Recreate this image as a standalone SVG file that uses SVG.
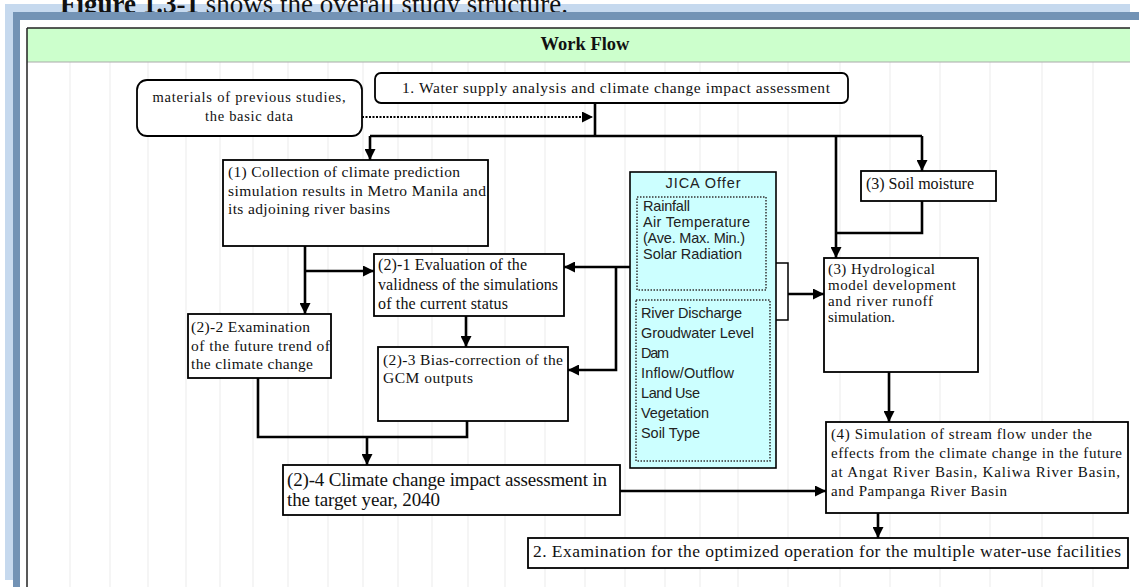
<svg xmlns="http://www.w3.org/2000/svg" width="1139" height="587" viewBox="0 0 1139 587">
<style>
.box{fill:#fff;stroke:#000;stroke-width:1.8}
.t{font-family:"Liberation Serif","Times New Roman",serif;fill:#111}
.s{font-family:"Liberation Sans",Arial,sans-serif;fill:#222}
.c{fill:none;stroke:#000;stroke-width:2.6}
.thin{fill:none;stroke:#000;stroke-width:1.5}
.dot{fill:none;stroke:#333;stroke-width:1.5;stroke-dasharray:1.5 1.5}
.grid{stroke:#ebebeb;stroke-width:1}
</style>
<defs>
<marker id="ah" viewBox="0 0 10 10" refX="10" refY="5" markerWidth="11" markerHeight="11" markerUnits="userSpaceOnUse" orient="auto">
<path d="M0,0 L10,5 L0,10 z" fill="#000"/>
</marker>
</defs>
<rect width="1139" height="587" fill="#fff"/>
<rect x="5" y="4" width="1125" height="576" fill="#c6d9ee"/>
<text class="t" x="60" y="13" font-size="27"><tspan font-weight="bold">Figure 1.3-1</tspan> shows the overall study structure.</text>
<rect x="13" y="12" width="1126" height="575" fill="#7393b5"/>
<rect x="20" y="20" width="1119" height="567" fill="#fff"/>
<g id="grid">
<line class="grid" x1="70" y1="28" x2="70" y2="587"/>
<line class="grid" x1="110" y1="28" x2="110" y2="587"/>
<line class="grid" x1="148" y1="28" x2="148" y2="587"/>
<line class="grid" x1="186" y1="28" x2="186" y2="587"/>
<line class="grid" x1="220" y1="28" x2="220" y2="587"/>
<line class="grid" x1="253" y1="28" x2="253" y2="587"/>
<line class="grid" x1="288" y1="28" x2="288" y2="587"/>
<line class="grid" x1="328" y1="28" x2="328" y2="587"/>
<line class="grid" x1="363" y1="28" x2="363" y2="587"/>
<line class="grid" x1="398" y1="28" x2="398" y2="587"/>
<line class="grid" x1="432" y1="28" x2="432" y2="587"/>
<line class="grid" x1="468" y1="28" x2="468" y2="587"/>
<line class="grid" x1="505" y1="28" x2="505" y2="587"/>
<line class="grid" x1="545" y1="28" x2="545" y2="587"/>
<line class="grid" x1="585" y1="28" x2="585" y2="587"/>
<line class="grid" x1="625" y1="28" x2="625" y2="587"/>
<line class="grid" x1="665" y1="28" x2="665" y2="587"/>
<line class="grid" x1="700" y1="28" x2="700" y2="587"/>
<line class="grid" x1="738" y1="28" x2="738" y2="587"/>
<line class="grid" x1="788" y1="28" x2="788" y2="587"/>
<line class="grid" x1="840" y1="28" x2="840" y2="587"/>
<line class="grid" x1="890" y1="28" x2="890" y2="587"/>
<line class="grid" x1="940" y1="28" x2="940" y2="587"/>
<line class="grid" x1="990" y1="28" x2="990" y2="587"/>
<line class="grid" x1="1042" y1="28" x2="1042" y2="587"/>
<line class="grid" x1="1093" y1="28" x2="1093" y2="587"/>
</g>
<g id="header">
<rect x="27" y="28" width="1103" height="34" fill="#ccffcc"/>
<line x1="27" y1="28" x2="1130" y2="28" stroke="#222" stroke-width="1.5"/>
<line x1="27" y1="62" x2="1130" y2="62" stroke="#aaa" stroke-width="1"/>
<line x1="27" y1="28" x2="27" y2="587" stroke="#222" stroke-width="1.5"/>
<text class="t" x="585" y="50" font-size="18.5" font-weight="bold" text-anchor="middle" fill="#0a2a0a">Work Flow</text>
</g>
<g id="connectors">
<path d="M362,117 H593" fill="none" stroke="#000" stroke-width="2" stroke-dasharray="2 1.5" marker-end="url(#ah)"/>
<path class="c" d="M595,103 V136"/>
<path class="c" d="M370,136 H922"/>
<path class="c" d="M370,136 V160" marker-end="url(#ah)"/>
<path class="c" d="M922,136 V171" marker-end="url(#ah)"/>
<path class="c" d="M836,136 V258" marker-end="url(#ah)"/>
<path class="c" d="M922,201 V233 H836"/>
<path class="c" d="M305,246 V314" marker-end="url(#ah)"/>
<path class="c" d="M305,271 H374" marker-end="url(#ah)"/>
<path class="c" d="M466,316 V347" marker-end="url(#ah)"/>
<path class="c" d="M638,267 H564" marker-end="url(#ah)"/>
<path class="c" d="M616,267 V370 H568" marker-end="url(#ah)"/>
<path class="thin" d="M763,263 H788 V320 H762"/>
<path class="c" d="M788,294 H824" marker-end="url(#ah)"/>
<path class="c" d="M889,372 V422" marker-end="url(#ah)"/>
<path class="c" d="M258,378 V437 H467 V421"/>
<path class="c" d="M367,437 V465" marker-end="url(#ah)"/>
<path class="c" d="M620,491 H826" marker-end="url(#ah)"/>
<path class="c" d="M878,513 V538" marker-end="url(#ah)"/>
</g>
<g id="n-main">
<rect class="box" x="375" y="73" width="473" height="30" rx="6"/>
<text class="t" x="402" y="93" font-size="15.5" textLength="428" lengthAdjust="spacing">1. Water supply analysis and climate change impact assessment</text>
</g>
<g id="n-materials">
<rect class="box" x="137" y="80" width="225" height="56" rx="10"/>
<text class="t" x="249" y="102" font-size="14.5" text-anchor="middle" textLength="193" lengthAdjust="spacing">materials of previous studies,</text>
<text class="t" x="249" y="121" font-size="14.5" text-anchor="middle" textLength="88" lengthAdjust="spacing">the basic data</text>
</g>
<g id="n-1">
<rect class="box" x="223" y="160" width="265" height="86"/>
<text class="t" x="228" y="177" font-size="15.5" textLength="232" lengthAdjust="spacing">(1) Collection of climate prediction</text>
<text class="t" x="228" y="196" font-size="15.5" textLength="258" lengthAdjust="spacing">simulation results in Metro Manila and</text>
<text class="t" x="228" y="214" font-size="15.5" textLength="162" lengthAdjust="spacing">its adjoining river basins</text>
</g>
<g id="n-2-1">
<rect class="box" x="374" y="254" width="190" height="62"/>
<text class="t" x="378" y="270" font-size="16" textLength="149" lengthAdjust="spacing">(2)-1 Evaluation of the</text>
<text class="t" x="378" y="290" font-size="16" textLength="180" lengthAdjust="spacing">validness of the simulations</text>
<text class="t" x="378" y="309" font-size="16" textLength="130" lengthAdjust="spacing">of the current status</text>
</g>
<g id="n-2-2">
<rect class="box" x="188" y="314" width="143" height="64"/>
<text class="t" x="191" y="332" font-size="15.5" textLength="119" lengthAdjust="spacing">(2)-2 Examination</text>
<text class="t" x="191" y="351" font-size="15.5" textLength="139" lengthAdjust="spacing">of the future trend of</text>
<text class="t" x="191" y="369" font-size="15.5" textLength="122" lengthAdjust="spacing">the climate change</text>
</g>
<g id="n-2-3">
<rect class="box" x="378" y="347" width="190" height="74"/>
<text class="t" x="383" y="365" font-size="15.5" textLength="180" lengthAdjust="spacing">(2)-3 Bias-correction of the</text>
<text class="t" x="383" y="383" font-size="15.5" textLength="90" lengthAdjust="spacing">GCM outputs</text>
</g>
<g id="n-2-4">
<rect class="box" x="283" y="465" width="337" height="50"/>
<text class="t" x="287" y="486" font-size="19" textLength="320" lengthAdjust="spacing">(2)-4 Climate change impact assessment in</text>
<text class="t" x="287" y="506" font-size="19" textLength="153" lengthAdjust="spacing">the target year, 2040</text>
</g>
<g id="n-jica">
<rect x="630" y="172" width="146" height="296" fill="#ccffff" stroke="#000" stroke-width="1.6"/>
<text class="s" x="703" y="188" font-size="14.5" text-anchor="middle" textLength="75" lengthAdjust="spacing">JICA Offer</text>
<rect class="dot" x="637" y="197" width="129" height="93"/>
<text class="s" x="643" y="211" font-size="14.5" textLength="47" lengthAdjust="spacing">Rainfall</text>
<text class="s" x="643" y="227" font-size="14.5" textLength="107" lengthAdjust="spacing">Air Temperature</text>
<text class="s" x="643" y="243" font-size="14.5" textLength="102" lengthAdjust="spacing">(Ave. Max. Min.)</text>
<text class="s" x="643" y="259" font-size="14.5" textLength="99" lengthAdjust="spacing">Solar Radiation</text>
<rect class="dot" x="636" y="300" width="134" height="161"/>
<text class="s" x="641" y="318" font-size="14.5" textLength="101" lengthAdjust="spacing">River Discharge</text>
<text class="s" x="641" y="338" font-size="14.5" textLength="113" lengthAdjust="spacing">Groudwater Level</text>
<text class="s" x="641" y="358" font-size="14.5" textLength="28" lengthAdjust="spacing">Dam</text>
<text class="s" x="641" y="378" font-size="14.5" textLength="93" lengthAdjust="spacing">Inflow/Outflow</text>
<text class="s" x="641" y="398" font-size="14.5" textLength="59" lengthAdjust="spacing">Land Use</text>
<text class="s" x="641" y="418" font-size="14.5" textLength="68" lengthAdjust="spacing">Vegetation</text>
<text class="s" x="641" y="438" font-size="14.5" textLength="59" lengthAdjust="spacing">Soil Type</text>
</g>
<g id="n-soil">
<rect class="box" x="861" y="171" width="135" height="30"/>
<text class="t" x="866" y="189" font-size="16" textLength="108" lengthAdjust="spacing">(3) Soil moisture</text>
</g>
<g id="n-hydro">
<rect class="box" x="824" y="258" width="154" height="114"/>
<text class="t" x="828" y="274" font-size="15" textLength="107" lengthAdjust="spacing">(3) Hydrological</text>
<text class="t" x="828" y="290" font-size="15" textLength="128" lengthAdjust="spacing">model development</text>
<text class="t" x="828" y="306" font-size="15" textLength="105" lengthAdjust="spacing">and river runoff</text>
<text class="t" x="828" y="322" font-size="15">simulation.</text>
</g>
<g id="n-4">
<rect class="box" x="826" y="422" width="302" height="91"/>
<text class="t" x="831" y="439" font-size="15" textLength="261" lengthAdjust="spacing">(4) Simulation of stream flow under the</text>
<text class="t" x="831" y="458" font-size="15" textLength="291" lengthAdjust="spacing">effects from the climate change in the future</text>
<text class="t" x="831" y="477" font-size="15" textLength="289" lengthAdjust="spacing">at Angat River Basin, Kaliwa River Basin,</text>
<text class="t" x="831" y="496" font-size="15" textLength="176" lengthAdjust="spacing">and Pampanga River Basin</text>
</g>
<g id="n-exam">
<rect class="box" x="528" y="538" width="600" height="30"/>
<text class="t" x="533" y="557" font-size="17.5" textLength="588" lengthAdjust="spacing">2. Examination for the optimized operation for the multiple water-use facilities</text>
</g>
</svg>
